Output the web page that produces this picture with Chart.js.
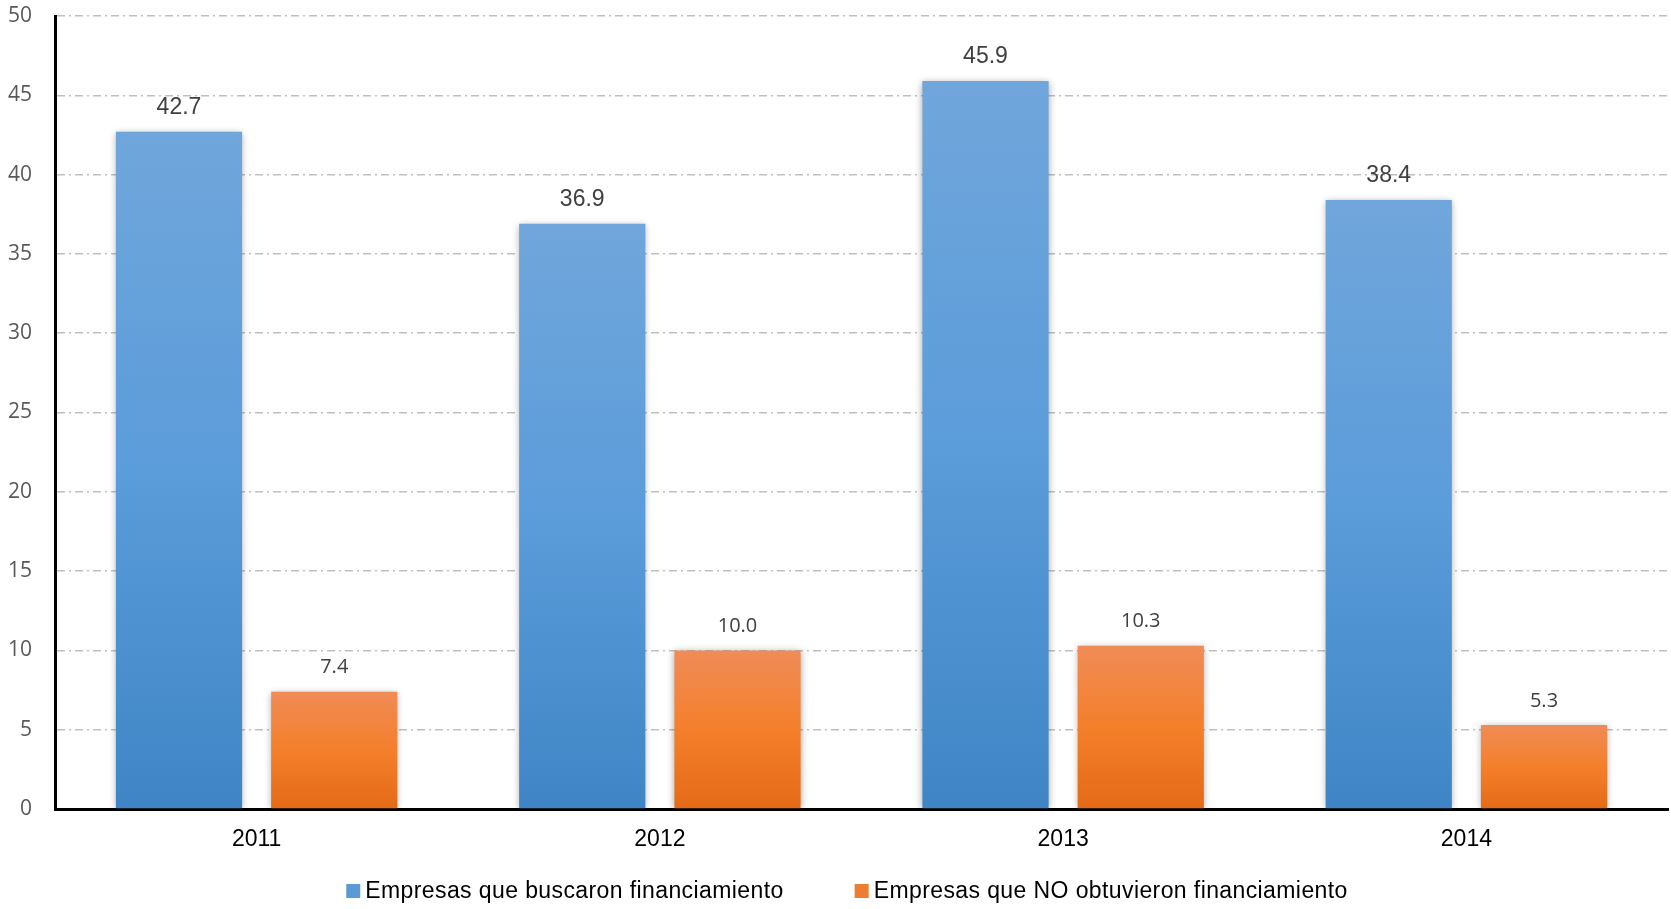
<!DOCTYPE html>
<html>
<head>
<meta charset="utf-8">
<script src="https://cdn.jsdelivr.net/npm/chart.js@4.4.1/dist/chart.umd.min.js"></script>
<style>
  html, body { margin: 0; padding: 0; background: #ffffff; }
  #wrap { width: 1671px; height: 909px; position: relative; }
</style>
</head>
<body>
<div id="wrap"><canvas id="c" width="1671" height="909"></canvas></div>
<script>
const categories = ['2011', '2012', '2013', '2014'];
const buscaronValues = [42.7, 36.9, 45.9, 38.4];
const noObtuvieronValues = [7.4, 10.0, 10.3, 5.3];
const seriesNames = ['Empresas que buscaron financiamiento', 'Empresas que NO obtuvieron financiamiento'];
const yTickMin = 0, yTickMax = 50, yTickStep = 5;

const blueStops = ['#70A6DB', '#5B9CDA', '#3F85C5'];
const orangeStops = ['#F08C57', '#F47F2B', '#E46A17'];
const legendSolid = ['#5B9BD5', '#ED7D31'];

function barGradient(stops) {
  return function (ctx) {
    const chart = ctx.chart;
    if (!chart.chartArea || ctx.type !== 'data' || !chart.scales.y) return stops[1];
    const y = chart.scales.y;
    const top = y.getPixelForValue(ctx.raw);
    const bot = y.getPixelForValue(0);
    if (!isFinite(top) || !isFinite(bot) || top === bot) return stops[1];
    const g = chart.ctx.createLinearGradient(0, top, 0, bot);
    g.addColorStop(0, stops[0]);
    g.addColorStop(0.5, stops[1]);
    g.addColorStop(1, stops[2]);
    return g;
  };
}

const arialFont = '"Liberation Sans", Arial, sans-serif';
const openFont = '"Open Sans", sans-serif';

const decorPlugin = {
  id: 'decor',
  beforeDatasetsDraw(chart) {
    const ctx = chart.ctx;
    ctx.save();
    ctx.shadowColor = 'rgba(0,0,0,0.35)';
    ctx.shadowBlur = 7;
    ctx.shadowOffsetX = 0;
    ctx.shadowOffsetY = 1;
  },
  afterDatasetsDraw(chart) {
    const ctx = chart.ctx;
    ctx.restore();
    ctx.save();
    chart.data.datasets.forEach((ds, di) => {
      const meta = chart.getDatasetMeta(di);
      meta.data.forEach((bar, i) => {
        const v = ds.data[i];
        ctx.font = di === 0 ? ('23px ' + arialFont) : ('20px ' + openFont);
        ctx.fillStyle = '#404040';
        ctx.textAlign = 'center';
        ctx.textBaseline = 'middle';
        ctx.fillText(v.toFixed(1), bar.x, bar.y - 24);
      });
    });
    ctx.restore();
  },
  afterDraw(chart) {
    const ctx = chart.ctx;
    ctx.save();
    ctx.font = '23px ' + arialFont;
    try { ctx.letterSpacing = '0.4px'; } catch (e) {}
    ctx.textBaseline = 'alphabetic';
    ctx.textAlign = 'left';
    const box = 14, gapText = 5, gapItem = 71;
    const widths = seriesNames.map(t => ctx.measureText(t).width);
    const total = widths.reduce((a, w) => a + box + gapText + w, 0) + gapItem * (seriesNames.length - 1);
    let x = 847 - total / 2;
    const baseline = 897.5;
    seriesNames.forEach((t, i) => {
      ctx.fillStyle = legendSolid[i];
      ctx.fillRect(x, 884, box, box);
      ctx.fillStyle = '#000000';
      ctx.fillText(t, x + box + gapText, baseline);
      x += box + gapText + widths[i] + gapItem;
    });
    ctx.restore();
  }
};

const chart = new Chart(document.getElementById('c'), {
  type: 'bar',
  data: {
    labels: categories,
    datasets: [
      { label: seriesNames[0], data: buscaronValues, backgroundColor: barGradient(blueStops), borderWidth: 0 },
      { label: seriesNames[1], data: noObtuvieronValues, backgroundColor: barGradient(orangeStops), borderWidth: 0 }
    ]
  },
  options: {
    responsive: false,
    animation: false,
    events: [],
    categoryPercentage: 0.77,
    barPercentage: 0.813,
    layout: { padding: { top: 16, right: 3, bottom: 0, left: 0 } },
    plugins: {
      legend: { display: false },
      tooltip: { enabled: false },
      title: { display: false }
    },
    scales: {
      x: {
        grid: { display: false, drawTicks: false },
        border: { display: true, color: '#000000', width: 3 },
        ticks: { color: '#000000', font: { family: arialFont, size: 23 }, padding: 17, maxRotation: 0 },
        afterFit(scale) { scale.height = 100; scale.paddingLeft = 0; scale.paddingRight = 0; }
      },
      y: {
        min: yTickMin,
        max: yTickMax,
        grid: { color: '#BFBFBF', lineWidth: 1.5, drawTicks: false },
        border: { display: true, color: '#000000', width: 3, dash: [8, 4, 2, 4] },
        ticks: { stepSize: yTickStep, color: '#595959', font: { family: openFont, size: 21 }, padding: 23 },
        afterFit(scale) { scale.width = 55; scale.paddingTop = 0; scale.paddingBottom = 0; }
      }
    }
  },
  plugins: [decorPlugin]
});
</script>
</body>
</html>
